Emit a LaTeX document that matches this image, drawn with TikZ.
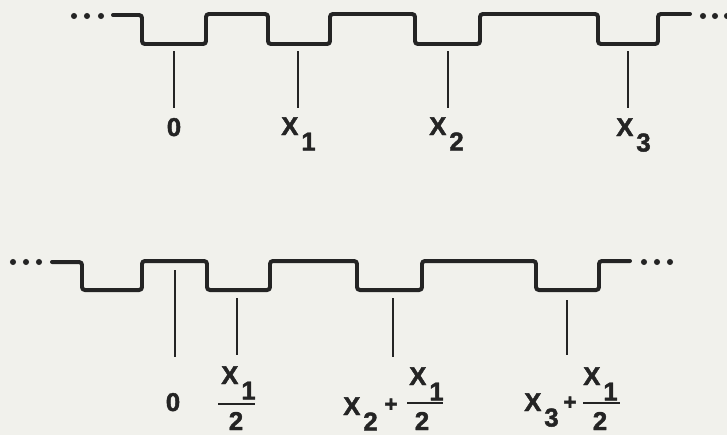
\documentclass[tikz,border=0pt]{standalone}
\usepackage{fontspec}
\setmainfont{Liberation Sans}
\newfontfamily\heavy{Liberation Sans Bold}[FakeBold=1.8]
\usepackage{tikz}
\usepackage{xcolor}
\definecolor{paper}{RGB}{241,241,236}
\definecolor{ink}{RGB}{36,36,36}
\newcommand{\xsub}[1]{X\kern2.5pt\raisebox{-0.6em}{#1}}

\begin{document}
\begin{tikzpicture}[x=0.03cm,y=-0.03cm,
  wave/.style={ink,line width=3.4pt,rounded corners=2.5pt,line cap=round},
  tick/.style={ink,line width=2pt},
  bar/.style={ink,line width=1.8pt},
  lbl/.style={ink,font=\fontsize{22}{22}\heavy,inner sep=0pt},
  plus/.style={ink,font=\fontsize{19}{19}\heavy,inner sep=0pt}]
\fill[paper] (0,0) rectangle (727,435);
\useasboundingbox (0,0) rectangle (727,435);

% upper train
\foreach \x in {74,87,101,703,715,727} \fill[ink] (\x,16) circle (2.6pt);
\draw[wave] (113,15) -- (142,15) -- (142,44) -- (206,44) -- (206,14) -- (268,14) -- (268,44) -- (330,44) -- (330,14) -- (415,14) -- (415,44) -- (480,44) -- (480,14) -- (598,14) -- (598,44) -- (658,44) -- (658,14) -- (690,14);
\foreach \x/\n in {174/0,298/1,448/2,628/3} {
  \coordinate (u\n) at (\x,51); \coordinate (v\n) at (\x,108);
  \draw[tick] (u\n) -- (v\n);
}
\node[lbl,anchor=base] (l0) at (174,136) {0};
\node[lbl,anchor=base west] (l1) at (281,135) {\xsub{1}};
\node[lbl,anchor=base west] (l2) at (429,135) {\xsub{2}};
\node[lbl,anchor=base west] (l3) at (616,136) {\xsub{3}};

% lower train, shifted by x1/2
\foreach \x in {13,26,39,644,657,670} \fill[ink] (\x,262) circle (2.6pt);
\draw[wave] (52,262) -- (82,262) -- (82,290) -- (142,290) -- (142,261) -- (207,261) -- (207,290) -- (270,290) -- (270,261) -- (357,261) -- (357,290) -- (422,290) -- (422,261) -- (536,261) -- (536,290) -- (599,290) -- (599,261) -- (630,261);
\coordinate (p0) at (175,270); \coordinate (q0) at (175,357);
\coordinate (p1) at (237,298); \coordinate (q1) at (237,355);
\coordinate (p2) at (393,298); \coordinate (q2) at (393,357);
\coordinate (p3) at (567,300); \coordinate (q3) at (567,355);
\foreach \n in {0,1,2,3} \draw[tick] (p\n) -- (q\n);

\node[lbl,anchor=base] (m0) at (173,411) {0};
\node[lbl,anchor=base west] (n1) at (221,384) {\xsub{1}};
\draw[bar] (218,404) -- (255,404);
\node[lbl,anchor=base] (d1) at (236,430) {2};

\node[lbl,anchor=base west] (m2) at (343,415) {\xsub{2}};
\node[plus] (s2) at (391,405) {+};
\node[lbl,anchor=base west] (n2) at (409,385) {\xsub{1}};
\draw[bar] (407,403) -- (443,403);
\node[lbl,anchor=base] (d2) at (422,430) {2};

\node[lbl,anchor=base west] (m3) at (524,411) {\xsub{3}};
\node[plus] (s3) at (570,403) {+};
\node[lbl,anchor=base west] (n3) at (583,385) {\xsub{1}};
\draw[bar] (583,403) -- (620,403);
\node[lbl,anchor=base] (d3) at (600,430) {2};
\end{tikzpicture}
\end{document}
